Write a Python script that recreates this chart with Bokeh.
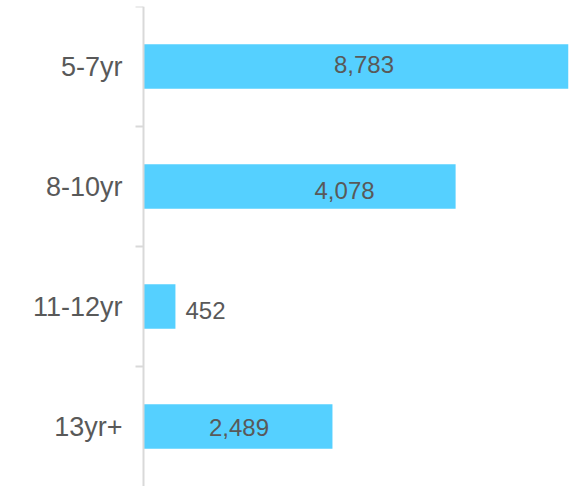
from bokeh.plotting import figure
from bokeh.models import (FactorRange, Range1d, CategoricalAxis,
                          ColumnDataSource, Span)
from bokeh.core.properties import value
from bokeh.embed import file_html
from bokeh.resources import INLINE

# ---- data (top to bottom) ----
categories = ["5-7yr", "8-10yr", "11-12yr", "13yr+"]
label_values = [8783, 4078, 452, 2489]          # numbers printed on the chart
bar_lengths = [8783, 6450, 660, 3905]           # bar lengths as drawn
label_inside = [True, True, False, True]
label_dx = [8, 45, 10, 1]                       # pixel nudges of the printed numbers
label_dy = [-2, 4, 4, 1]

BAR = "#55D0FF"
TXT = "#595959"
AXC = "#D9D9D9"
FONT = "Liberation Sans"

# layout (pixels)
W, H = 578, 486
FRAME_LEFT = 134          # frame starts a little left of the value axis
TOP_BORDER = 6
AXIS_GAP = 9              # pixels between frame left and value zero
RIGHT_BORDER = 10
TICK_LEN = 8

frame_w = W - FRAME_LEFT - RIGHT_BORDER
xmax = max(bar_lengths)
units_per_px = xmax / (frame_w - AXIS_GAP)
xmin = -AXIS_GAP * units_per_px

cats_rev = categories[::-1]
src = ColumnDataSource(dict(
    cat=categories,
    bar=bar_lengths,
    text=[f"{v:,}" for v in label_values],
    lx=[b / 2 if ins else b for b, ins in zip(bar_lengths, label_inside)],
    align=["center" if ins else "left" for ins in label_inside],
    dx=label_dx,
    dy=label_dy,
))
tick_src = ColumnDataSource(dict(
    y=[(c, 0.5) for c in categories],
    x0=[-TICK_LEN * units_per_px] * len(categories),
    x1=[0] * len(categories),
))

p = figure(width=W, height=H,
           y_range=FactorRange(factors=cats_rev, range_padding=0),
           x_range=Range1d(xmin, xmax),
           output_backend="svg", toolbar_location=None,
           x_axis_location=None, y_axis_location=None,
           min_border_left=FRAME_LEFT, min_border_right=RIGHT_BORDER,
           min_border_top=TOP_BORDER, min_border_bottom=0)
p.outline_line_color = None
p.xgrid.visible = False
p.ygrid.visible = False
p.background_fill_color = "white"

p.hbar(y="cat", right="bar", left=0, height=0.37, source=src,
       fill_color=BAR, line_color=None)

# value axis line and band-boundary ticks
p.add_layout(Span(location=0, dimension="height", line_color=AXC, line_width=2))
p.segment(x0="x0", x1="x1", y0="y", y1="y", source=tick_src,
          line_color=AXC, line_width=2)

p.text(x="lx", y="cat", text="text", source=src,
       text_align="align", text_baseline="middle",
       x_offset="dx", y_offset="dy",
       text_font=value(FONT), text_font_size="24px", text_color=TXT)

# category labels
cat_axis = CategoricalAxis(axis_line_color=None, major_tick_line_color=None,
                           minor_tick_line_color=None,
                           major_tick_in=0, major_tick_out=0,
                           major_label_standoff=12,
                           major_label_text_font=FONT,
                           major_label_text_font_size="27px",
                           major_label_text_color=TXT)
p.add_layout(cat_axis, "left")

open("out.html", "w").write(file_html(p, INLINE))
